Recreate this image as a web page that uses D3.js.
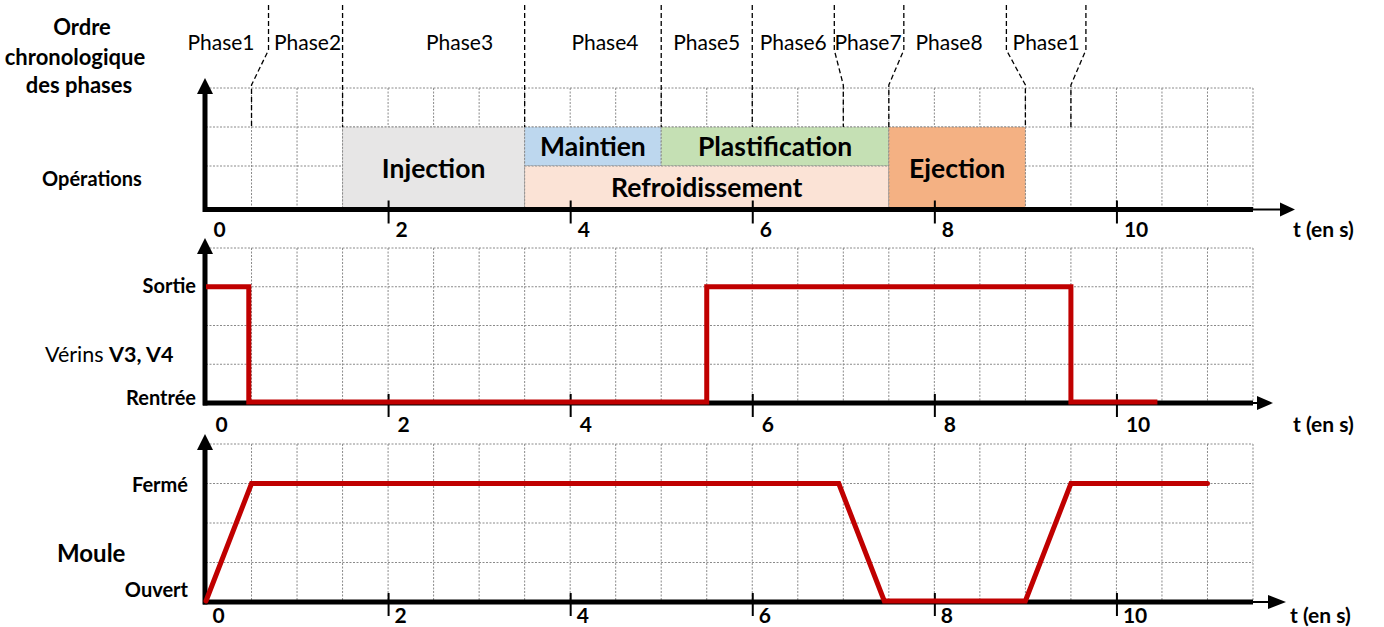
<!DOCTYPE html>
<html>
<head>
<meta charset="utf-8">
<script src="https://cdn.jsdelivr.net/npm/d3@7"></script>
<style>
  body { margin: 0; background: #fff; }
  text { font-family: Lato, "Open Sans", sans-serif; fill: #000; }
</style>
</head>
<body>
<svg id="chart" width="1384" height="627"></svg>
<script>
// ---- time axis (seconds) ----
const timeTicks = [0, 2, 4, 6, 8, 10];
const timeTickLabels = ["0", "2", "4", "6", "8", "10"];
const timeMax = 11.5;      // end of the grid
const gridStep = 0.5;      // one grid cell = 0.5 s

// ---- cycle phases (boundaries in s) ----
const phaseNames = ["Phase1", "Phase2", "Phase3", "Phase4", "Phase5", "Phase6", "Phase7", "Phase8", "Phase1"];
const phaseBoundaries = [0.5, 1.5, 3.5, 5, 6, 7, 7.5, 9, 9.5];

// ---- operations (start / end in s, band rows 0..2 of the strip) ----
const opNames = ["Injection", "Maintien", "Plastification", "Refroidissement", "Ejection"];
const opStart = [1.5, 3.5, 5, 3.5, 7.5];
const opEnd = [3.5, 5, 7.5, 7.5, 9];
const opRowLow = [0, 1, 1, 0, 0];
const opRowHigh = [2, 2, 2, 1, 2];

// ---- cylinders V3, V4 : 1 = Sortie, 0 = Rentrée ----
const verinTime = [0, 0.47, 0.47, 5.5, 5.5, 9.5, 9.5, 10.45];
const verinState = [1, 1, 0, 0, 1, 1, 0, 0];

// ---- mould : 1 = Fermé, 0 = Ouvert ----
const mouleTime = [0, 0.5, 6.95, 7.45, 9, 9.5, 11];
const mouleState = [0, 1, 1, 0, 0, 1, 1];

// ================= drawing =================
const svg = d3.select("#chart");
const x = d3.scaleLinear().domain([0, timeMax]).range([206, 1253]);
const gridTimes = d3.range(gridStep, timeMax + 1e-9, gridStep);

const RED = "#c00000";
const GRID = "#8a8a8a";
const opFill = ["#e7e6e6", "#bdd7ee", "#c5e0b4", "#fbe3d6", "#f4b183"];

// panel geometry
const panels = {
  top:    { top: 88,  gridBottom: 205, axis: 209.5, rows: 3, arrowBase: 1280, arrowTip: 1295, labelDy: 27.5, labelDx: 7, unitX: 1293 },
  middle: { top: 248, gridBottom: 403, axis: 403,   rows: 4, arrowBase: 1257, arrowTip: 1273, labelDy: 29,   labelDx: 9, unitX: 1293 },
  bottom: { top: 444, gridBottom: 602, axis: 602,   rows: 4, arrowBase: 1268, arrowTip: 1286, labelDy: 20.5, labelDx: 6, unitX: 1290 }
};
Object.values(panels).forEach(p => {
  p.y = d3.scaleLinear().domain([0, p.rows]).range([p.gridBottom, p.top]);
});

function drawGrid(p) {
  const g = svg.append("g").attr("stroke", GRID).attr("stroke-width", 1)
    .attr("stroke-dasharray", "2,1.5").attr("fill", "none");
  g.selectAll("line.v").data(gridTimes).join("line")
    .attr("x1", d => x(d)).attr("x2", d => x(d))
    .attr("y1", p.top).attr("y2", p.axis);
  g.selectAll("line.h").data(d3.range(1, p.rows + 1)).join("line")
    .attr("x1", x(0)).attr("x2", x(timeMax))
    .attr("y1", d => p.y(d)).attr("y2", d => p.y(d));
}

function drawAxes(p) {
  const g = svg.append("g");
  // vertical axis with arrow
  const tip = p.top - 10;
  g.append("line").attr("x1", 205).attr("x2", 205)
    .attr("y1", p.axis + 2.5).attr("y2", tip + 14)
    .attr("stroke", "#000").attr("stroke-width", 5);
  g.append("path").attr("d", `M197,${tip + 16}L213,${tip + 16}L205,${tip}Z`).attr("fill", "#000");
  // horizontal axis: thick part, thin extension and arrow
  g.append("line").attr("x1", 203).attr("x2", x(timeMax))
    .attr("y1", p.axis).attr("y2", p.axis)
    .attr("stroke", "#000").attr("stroke-width", 5);
  g.append("line").attr("x1", x(timeMax)).attr("x2", p.arrowBase + 1)
    .attr("y1", p.axis).attr("y2", p.axis)
    .attr("stroke", "#000").attr("stroke-width", 2);
  g.append("path")
    .attr("d", `M${p.arrowBase},${p.axis - 7}L${p.arrowBase},${p.axis + 7}L${p.arrowTip},${p.axis}Z`)
    .attr("fill", "#000");

  // time ticks and labels
  const axis = d3.axisBottom(x).tickValues(timeTicks)
    .tickFormat((d, i) => timeTickLabels[i]).tickSize(14).tickPadding(0);
  const ag = svg.append("g").attr("transform", `translate(0,${p.axis})`).call(axis);
  ag.select(".domain").remove();
  ag.selectAll(".tick line").attr("y1", -9).attr("stroke", "#000").attr("stroke-width", 2);
  ag.selectAll(".tick").filter(d => d === 0).select("line").remove();
  ag.selectAll(".tick text")
    .attr("text-anchor", "start").attr("x", p.labelDx).attr("dy", null).attr("y", p.labelDy)
    .style("font-family", "Lato, sans-serif").style("font-weight", 700)
    .style("font-size", "21px").attr("fill", "#000");

  svg.append("text").attr("x", p.unitX).attr("y", p.axis + p.labelDy)
    .style("font-weight", 700).style("font-size", "21px").text("t (en s)");
}

function drawSignal(p, times, states, levelRow, cap) {
  const ys = d3.scaleLinear().domain([0, 1]).range([p.axis - 1, p.y(levelRow)]);
  const pts = times.map((t, i) => [t, states[i]]);
  svg.append("path").datum(pts)
    .attr("d", d3.line().x(d => x(d[0])).y(d => ys(d[1])))
    .attr("fill", "none").attr("stroke", RED).attr("stroke-width", 5)
    .attr("stroke-linejoin", "miter").attr("stroke-linecap", cap);
}

// ---------- top panel : phases & operations ----------
const P0 = panels.top;
drawGrid(P0);

const opRowY = d => (d === 0 ? P0.axis : P0.y(d));
const ops = opNames.map((n, i) => ({ n, s: opStart[i], e: opEnd[i], lo: opRowLow[i], hi: opRowHigh[i], c: opFill[i] }));
svg.append("g").selectAll("rect").data(ops).join("rect")
  .attr("x", d => x(d.s)).attr("width", d => x(d.e) - x(d.s))
  .attr("y", d => P0.y(d.hi)).attr("height", d => opRowY(d.lo) - P0.y(d.hi))
  .attr("fill", d => d.c)
  .attr("stroke", GRID).attr("stroke-width", 1).attr("stroke-dasharray", "2,1.5");
svg.append("g").selectAll("text").data(ops).join("text")
  .attr("x", d => (x(d.s) + x(d.e)) / 2)
  .attr("y", d => (P0.y(d.hi) + opRowY(d.lo)) / 2)
  .attr("dy", "0.36em").attr("text-anchor", "middle")
  .style("font-weight", 700).style("font-size", "26.5px").text(d => d.n);

// phase dividers: dashed, some leaning at the top to make room for the labels
const dividerLean = [17, 0, 0, 0, 0, -9, 15, -19, 15];
const divTop = 5, leanStart = 50, leanEnd = 85, divBottom = P0.y(2);
const dividers = phaseBoundaries.map((t, i) => ({ t, bx: x(t), tx: x(t) + dividerLean[i] }));
svg.append("g").selectAll("path").data(dividers).join("path")
  .attr("d", d => `M${d.tx},${divTop}L${d.tx},${leanStart}L${d.bx},${leanEnd}L${d.bx},${divBottom}`)
  .attr("fill", "none").attr("stroke", "#000").attr("stroke-width", 1.3)
  .attr("stroke-dasharray", "5,3");

// phase labels sit between the top ends of the dividers
const labelNudge = [0, 2, 26, 12, 0, 0, -1, -6, 0];
const phaseLabels = phaseNames.map((n, i) => {
  if (i === 0) return { n, x: dividers[0].tx - 14, anchor: "end" };
  const a = dividers[i - 1].tx, b = i < dividers.length ? dividers[i].tx : a + 80;
  return { n, x: (a + b) / 2 + labelNudge[i], anchor: "middle" };
});
svg.append("g").selectAll("text").data(phaseLabels).join("text")
  .attr("x", d => d.x).attr("y", 50).attr("text-anchor", d => d.anchor)
  .style("font-size", "21px").text(d => d.n);

drawAxes(P0);

// ---------- middle panel : cylinders ----------
const P1 = panels.middle;
drawGrid(P1);
drawAxes(P1);
drawSignal(P1, verinTime, verinState, 3, "butt");

// ---------- bottom panel : mould ----------
const P2 = panels.bottom;
drawGrid(P2);
drawAxes(P2);
drawSignal(P2, mouleTime, mouleState, 3, "round");

// ---------- left-hand titles ----------
const bold = (sel) => sel.style("font-weight", 700);
const head = svg.append("g").attr("text-anchor", "middle").style("font-size", "22px").style("font-weight", 700);
head.append("text").attr("x", 82).attr("y", 35).text("Ordre");
head.append("text").attr("x", 75).attr("y", 65).text("chronologique");
head.append("text").attr("x", 79).attr("y", 93).text("des phases");
bold(svg.append("text").attr("x", 92).attr("y", 186).attr("text-anchor", "middle").style("font-size", "20px").text("Opérations"));

const right = svg.append("g").attr("text-anchor", "end").style("font-size", "20px").style("font-weight", 700);
right.append("text").attr("x", 196).attr("y", P1.y(3) + 6).text("Sortie");
right.append("text").attr("x", 196).attr("y", P1.axis + 2).text("Rentrée");
right.append("text").attr("x", 188).attr("y", P2.y(3) + 8).text("Fermé");
right.append("text").attr("x", 188).attr("y", P2.axis - 5).text("Ouvert");

const ver = svg.append("text").attr("x", 45).attr("y", 362).style("font-size", "21.5px");
ver.append("tspan").text("Vérins ");
ver.append("tspan").style("font-weight", 700).text("V3, V4");

bold(svg.append("text").attr("x", 57).attr("y", 562).style("font-size", "24px").text("Moule"));
</script>
</body>
</html>
